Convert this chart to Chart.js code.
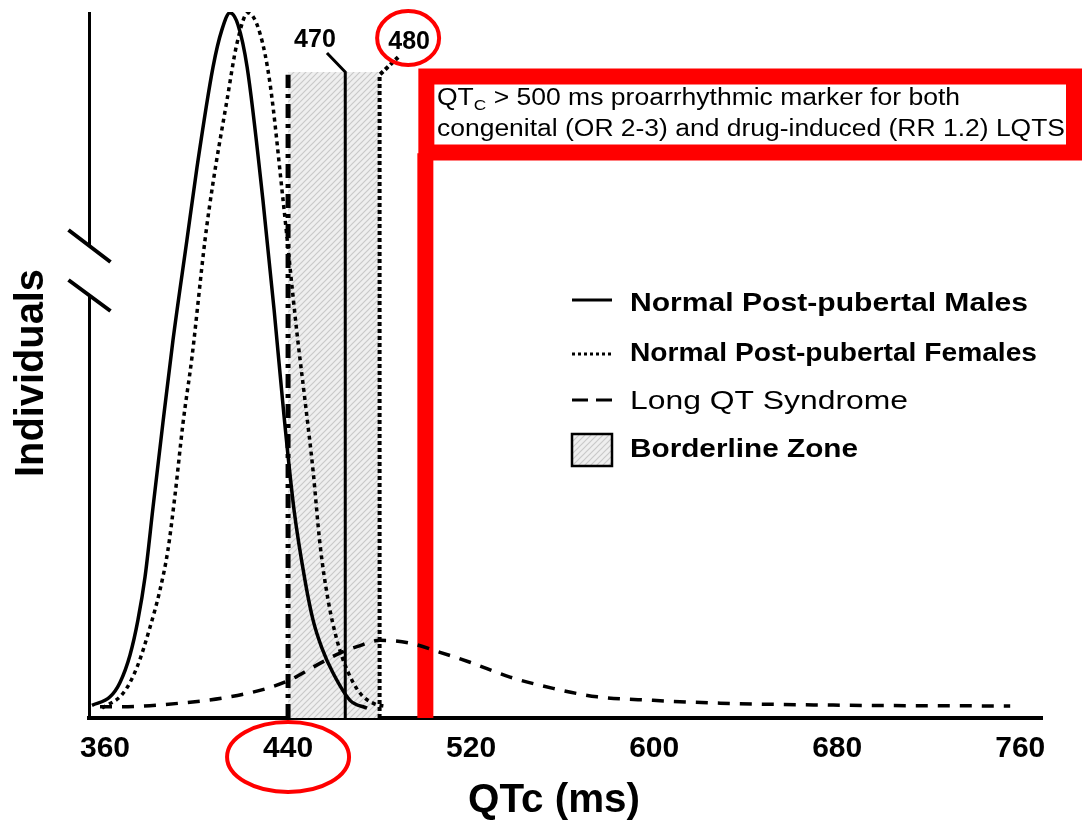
<!DOCTYPE html>
<html lang="en">
<head>
  <meta charset="UTF-8" />
  <title>QTc distribution</title>
  <style>
    body { margin: 0; background: #fff; }
    #wrap { position: relative; width: 1084px; height: 822px; }
  </style>
</head>
<body>
  <div id="wrap"><canvas id="chart"></canvas></div>

  <script src="https://cdn.jsdelivr.net/npm/chart.js"></script>
  <script>
    // axis
    const xMin = 353;
    const xMax = 769.5;
    const xTicks = [360, 440, 520, 600, 680, 760];

    // distribution curves (QTc ms / relative number of individuals)
    const maleQtc = [354.3, 362.2, 366.5, 370.9, 374.4, 377.5, 381.0, 385.3, 389.7, 395.8, 400.2, 407.2, 411.1, 414.6, 418.1, 422.1, 429.0, 433.9, 438.2, 442.6, 447.4, 450.9, 454.8, 459.6, 467.1, 474.5];
    const maleCount = [1.8, 3.0, 5.0, 8.9, 13.9, 20.0, 29.9, 41.8, 53.5, 67.7, 78.0, 92.2, 97.5, 99.9, 98.2, 92.2, 73.4, 57.8, 42.9, 29.5, 19.5, 13.9, 9.9, 6.4, 2.5, 1.4];

    const femaleQtc = [358.7, 367.9, 374.0, 379.7, 384.0, 387.5, 390.6, 394.1, 398.0, 403.7, 407.2, 413.3, 417.7, 422.5, 427.7, 432.1, 437.8, 443.9, 447.4, 450.9, 454.0, 457.5, 461.4, 465.8, 471.5, 477.1, 483.3];
    const femaleCount = [1.4, 3.5, 7.2, 12.9, 18.1, 23.8, 31.6, 41.8, 51.1, 67.7, 75.8, 87.5, 95.6, 99.9, 97.0, 89.9, 73.4, 54.5, 45.0, 35.1, 24.5, 16.7, 11.0, 6.8, 3.5, 2.1, 1.6];

    const lqtsQtc = [357.8, 366.5, 392.8, 414.6, 430.8, 440.9, 450.9, 462.7, 470.1, 480.2, 493.3, 506.4, 519.5, 537.0, 555.8, 575.1, 599.5, 628.8, 685.7, 755.6];
    const lqtsCount = [1.6, 1.6, 2.1, 3.0, 4.2, 5.4, 7.2, 9.2, 10.1, 11.0, 10.6, 9.3, 7.9, 5.8, 4.2, 3.0, 2.5, 2.1, 1.8, 1.7];

    // borderline zone and cut-off markers
    const zoneStart = 440;
    const zoneEnd = 480;
    const zoneTop = 91.5;
    const maleCutoff = [465, 91.5];      // vertical line x, top
    const maleLeader = [457, 94.2];      // end of leader to "470"
    const femaleCutoff = [480, 91.1];
    const femaleLeader = [488.1, 93.6];  // end of leader to "480"
    const dashDotLine = [440, 91.1];
    const redMarker = [500, 80];

    const cutoffLabels = ['470', '480'];
    const legendLabels = ['Normal Post-pubertal Males', 'Normal Post-pubertal Females', 'Long QT Syndrome', 'Borderline Zone'];

    const SANS = '"Liberation Sans", Arial, Helvetica, sans-serif';
    const RED = '#ff0000';

    function pts(xs, ys) {
      return xs.map((x, i) => ({ x: x, y: ys[i] }));
    }

    function hatch() {
      const c = document.createElement('canvas');
      c.width = c.height = 6;
      const g = c.getContext('2d');
      g.fillStyle = '#efefef';
      g.fillRect(0, 0, 6, 6);
      g.strokeStyle = '#c9c9c9';
      g.lineWidth = 1.2;
      g.beginPath();
      g.moveTo(0, 6); g.lineTo(6, 0);
      g.moveTo(-1, 1); g.lineTo(1, -1);
      g.moveTo(5, 7); g.lineTo(7, 5);
      g.stroke();
      return g.createPattern(c, 'repeat');
    }
    const zonePattern = hatch();

    // text squeezed / stretched to a given width
    function fitText(ctx, txt, x, y, w, font) {
      ctx.font = font;
      const m = ctx.measureText(txt).width;
      ctx.save();
      ctx.translate(x, y);
      ctx.scale(w / m, 1);
      ctx.textAlign = 'left';
      ctx.fillText(txt, 0, 0);
      ctx.restore();
    }

    const overlay = {
      id: 'overlay',
      afterDraw(chart) {
        const ctx = chart.ctx;
        const xs = chart.scales.x;
        const area = chart.chartArea;
        ctx.save();
        ctx.fillStyle = '#000';
        ctx.strokeStyle = '#000';
        ctx.textBaseline = 'alphabetic';

        // y axis with break marks
        const ax = area.left + 0.5;
        ctx.lineWidth = 3;
        ctx.beginPath();
        ctx.moveTo(ax, area.top);
        ctx.lineTo(ax, 247);
        ctx.moveTo(ax, 296);
        ctx.lineTo(ax, area.bottom);
        ctx.stroke();
        ctx.lineWidth = 4;
        ctx.beginPath();
        ctx.moveTo(ax - 21, 230); ctx.lineTo(ax + 21, 262);
        ctx.moveTo(ax - 21, 280); ctx.lineTo(ax + 21, 311);
        ctx.stroke();

        // axis titles
        ctx.save();
        ctx.translate(43, 373);
        ctx.rotate(-Math.PI / 2);
        fitText(ctx, 'Individuals', -104, 0, 208, 'bold 40px ' + SANS);
        ctx.restore();
        fitText(ctx, 'QTc (ms)', 468, 812, 172, 'bold 40px ' + SANS);

        // cut-off labels
        ctx.textAlign = 'center';
        ctx.font = 'bold 25px ' + SANS;
        ctx.fillText(cutoffLabels[0], xs.getPixelForValue(maleLeader[0]) - 12, 47);
        ctx.fillText(cutoffLabels[1], xs.getPixelForValue(femaleLeader[0]) + 11, 49);

        // red circles
        ctx.strokeStyle = RED;
        ctx.lineWidth = 4;
        ctx.beginPath();
        ctx.ellipse(xs.getPixelForValue(femaleLeader[0]) + 10, 38, 31, 27, 0, 0, Math.PI * 2);
        ctx.stroke();
        ctx.beginPath();
        ctx.ellipse(xs.getPixelForValue(xTicks[1]), 757, 61, 35, 0, 0, Math.PI * 2);
        ctx.stroke();

        // red annotation box
        const rx = xs.getPixelForValue(redMarker[0]);
        ctx.fillStyle = '#fff';
        ctx.fillRect(rx, 76.5, 1074 - rx, 76);
        ctx.lineWidth = 16;
        ctx.strokeRect(rx + 1, 76.5, 1073 - rx, 76);
        ctx.fillStyle = '#000';
        const big = '23px ' + SANS;
        const small = '15px ' + SANS;
        const rest = ' > 500 ms proarrhythmic marker for both';
        ctx.textAlign = 'left';
        ctx.font = big;
        const w1 = ctx.measureText('QT').width;
        const w3 = ctx.measureText(rest).width;
        ctx.font = small;
        const w2 = ctx.measureText('C').width;
        const sx = 523 / (w1 + w2 + w3);
        ctx.save();
        ctx.translate(437, 105);
        ctx.scale(sx, 1);
        ctx.font = big; ctx.fillText('QT', 0, 0);
        ctx.font = small; ctx.fillText('C', w1, 5);
        ctx.font = big; ctx.fillText(rest, w1 + w2, 0);
        ctx.restore();
        fitText(ctx, 'congenital (OR 2-3) and drug-induced (RR 1.2) LQTS', 437, 136, 628, big);

        // legend
        const lx = 572, lw = 40, tx = 630;
        const rows = [302, 352, 400, 448];
        ctx.strokeStyle = '#000';
        ctx.lineWidth = 3;
        ctx.beginPath(); ctx.moveTo(lx, 300); ctx.lineTo(lx + lw, 300); ctx.stroke();
        ctx.setLineDash([3, 3]);
        ctx.beginPath(); ctx.moveTo(lx, 354); ctx.lineTo(lx + lw, 354); ctx.stroke();
        ctx.setLineDash([]);
        ctx.beginPath();
        ctx.moveTo(lx, 400); ctx.lineTo(lx + 16, 400);
        ctx.moveTo(lx + 24, 400); ctx.lineTo(lx + lw, 400);
        ctx.stroke();
        ctx.fillStyle = zonePattern;
        ctx.fillRect(lx, 434, lw, 32);
        ctx.lineWidth = 2.5;
        ctx.strokeRect(lx, 434, lw, 32);
        ctx.fillStyle = '#000';
        const lf = 'bold 26px ' + SANS;
        fitText(ctx, legendLabels[0], tx, rows[0] + 9, 398, lf);
        fitText(ctx, legendLabels[1], tx, rows[1] + 9, 407, lf);
        fitText(ctx, legendLabels[2], tx, rows[2] + 9, 278, '26px ' + SANS);
        fitText(ctx, legendLabels[3], tx, rows[3] + 9, 228, lf);

        ctx.restore();
      }
    };

    const line = {
      pointRadius: 0,
      fill: false,
      borderColor: '#000',
      borderCapStyle: 'butt'
    };

    new Chart(document.getElementById('chart'), {
      type: 'line',
      data: {
        datasets: [
          Object.assign({}, line, { label: legendLabels[0], data: pts(maleQtc, maleCount), borderWidth: 3.5, cubicInterpolationMode: 'monotone', order: 1 }),
          Object.assign({}, line, { label: legendLabels[1], data: pts(femaleQtc, femaleCount), borderWidth: 3.5, borderDash: [4, 4], cubicInterpolationMode: 'monotone', order: 2 }),
          Object.assign({}, line, { label: legendLabels[2], data: pts(lqtsQtc, lqtsCount), borderWidth: 3.5, borderDash: [12, 10], cubicInterpolationMode: 'monotone', order: 3 }),
          Object.assign({}, line, { label: 'dash-dot', data: [{ x: dashDotLine[0], y: 0 }, { x: dashDotLine[0], y: dashDotLine[1] }], borderWidth: 5, borderDash: [14, 6, 4, 6], order: 4 }),
          Object.assign({}, line, { label: 'male cutoff', data: [{ x: maleCutoff[0], y: 0 }, { x: maleCutoff[0], y: maleCutoff[1] }, { x: maleLeader[0], y: maleLeader[1] }], borderWidth: 3, order: 4 }),
          Object.assign({}, line, { label: 'female cutoff', data: [{ x: femaleCutoff[0], y: 0 }, { x: femaleCutoff[0], y: femaleCutoff[1] }, { x: femaleLeader[0], y: femaleLeader[1] }], borderWidth: 4, borderDash: [4, 3], order: 4 }),
          Object.assign({}, line, { label: 'QTc 500', data: [{ x: redMarker[0], y: 0 }, { x: redMarker[0], y: redMarker[1] }], borderWidth: 16, borderColor: RED, order: 5 }),
          { label: legendLabels[3], data: [{ x: zoneStart, y: zoneTop }, { x: zoneEnd, y: zoneTop }], fill: 'origin', backgroundColor: zonePattern, borderWidth: 0, pointRadius: 0, order: 10 }
        ]
      },
      options: {
        responsive: true,
        maintainAspectRatio: false,
        animation: false,
        layout: { padding: { left: 89, right: 42, top: 12, bottom: 0 } },
        plugins: { legend: { display: false }, tooltip: { enabled: false } },
        scales: {
          x: {
            type: 'linear',
            min: xMin,
            max: xMax,
            afterBuildTicks: s => { s.ticks = xTicks.map(v => ({ value: v })); },
            afterFit: s => { s.height = 104; },
            grid: { display: false, drawTicks: false },
            border: { display: true, color: '#000', width: 4 },
            ticks: {
              autoSkip: false,
              maxRotation: 0,
              padding: 13,
              color: '#000',
              font: { family: SANS, size: 30, weight: 'bold' }
            }
          },
          y: { min: 0, max: 100, display: false }
        }
      },
      plugins: [overlay]
    });
  </script>
</body>
</html>
